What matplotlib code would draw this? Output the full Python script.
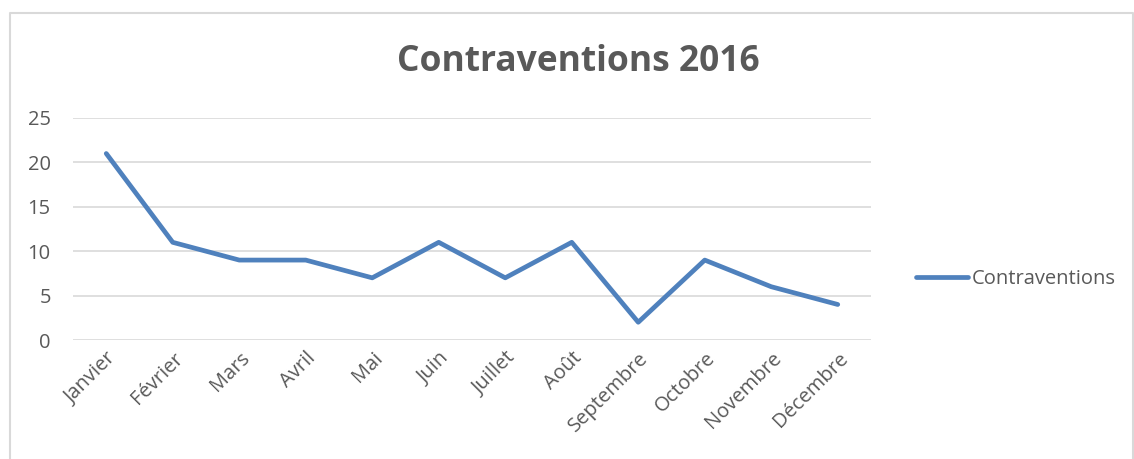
import matplotlib.pyplot as plt
from matplotlib.lines import Line2D

plt.rcParams['font.family'] = ['Open Sans', 'DejaVu Sans']

mois = ['Janvier', 'Février', 'Mars', 'Avril', 'Mai', 'Juin', 'Juillet',
        'Août', 'Septembre', 'Octobre', 'Novembre', 'Décembre']
contraventions = [21, 11, 9, 9, 7, 11, 7, 11, 2, 9, 6, 4]
yticks = [0, 5, 10, 15, 20, 25]

gris = '#595959'
bleu = '#4F81BD'

fig = plt.figure(figsize=(11.34, 4.59), dpi=100)
ax = fig.add_axes([73 / 1134, 1 - 340 / 459, 798 / 1134, 222 / 459])

x = range(len(mois))
ax.plot(x, contraventions, color=bleu, linewidth=3.4, solid_capstyle='round',
        solid_joinstyle='round', label='Contraventions')

ax.set_xlim(-0.5, len(mois) - 0.5)
ax.set_ylim(0, 25)
ax.set_yticks(yticks)
ax.set_xticks(list(x))
ax.set_xticklabels(mois, rotation=45, ha='right', rotation_mode='anchor')
ax.grid(axis='y', color='#d9d9d9', linewidth=1.2)
ax.set_axisbelow(True)
for s in ax.spines.values():
    s.set_visible(False)
ax.tick_params(length=0, labelsize=14.5, colors=gris, pad=6)
ax.tick_params(axis='y', pad=16)

fig.text(578 / 1134, 1 - 62 / 459, 'Contraventions 2016', ha='center', va='center',
         fontsize=25.5, fontweight='bold', color=gris)

leg = ax.legend(loc='center left', frameon=False, fontsize=14.5, handlelength=2.6,
                handletextpad=0.15, labelcolor=gris)
leg.set_bbox_to_anchor((898 / 1134, 1 - 279 / 459), transform=fig.transFigure)

# chart border (left, top, right)
bx0, bx1, by = 10 / 1134, 1133 / 1134, 1 - 13 / 459
fig.add_artist(Line2D([bx0, bx0, bx1, bx1], [0, by, by, 0], transform=fig.transFigure,
                      color='#d9d9d9', linewidth=1.5))

fig.savefig('out.png', dpi=100)
